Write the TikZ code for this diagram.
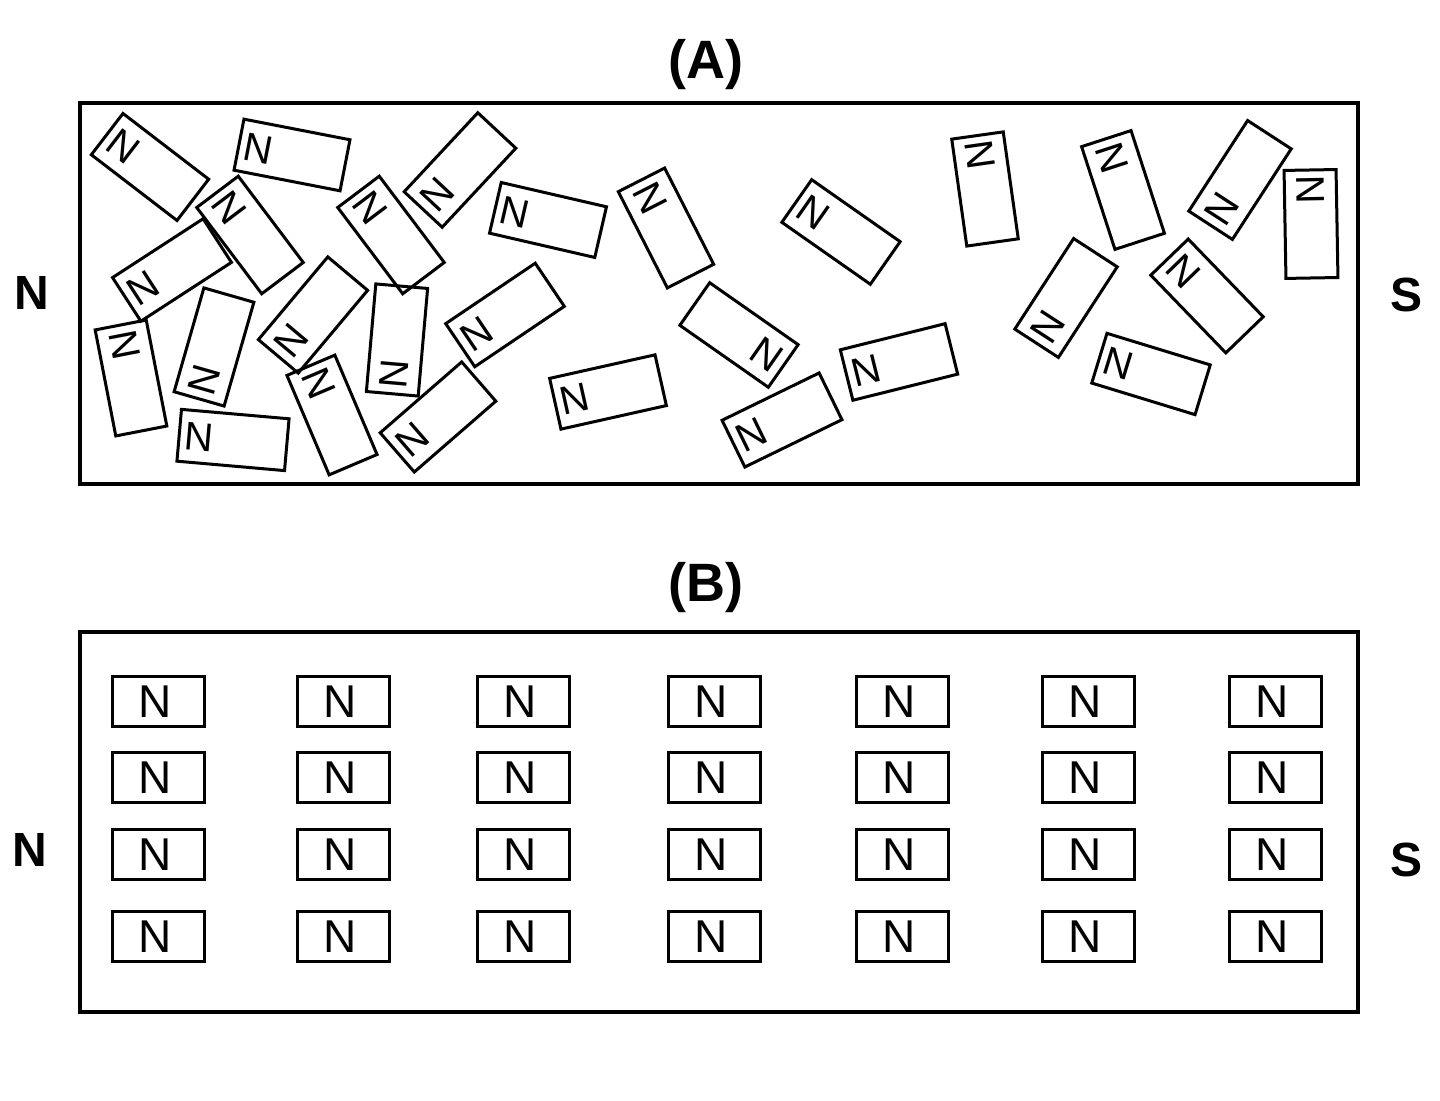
\documentclass[tikz,border=0pt]{standalone}
\usepackage{fontspec}
\setmainfont{Liberation Sans}
\begin{document}
\begin{tikzpicture}[x=0.5pt,y=0.5pt,
  frame/.style={draw,line width=2pt},
  magbox/.style={draw,line width=1.5pt},
  nlab/.style={font=\fontsize{20}{20}\selectfont,inner sep=0pt},
  nlabb/.style={font=\fontsize{23}{23}\selectfont,inner sep=0pt},
  biglab/.style={font=\fontsize{24}{24}\selectfont\bfseries,inner sep=0pt},
  title/.style={font=\fontsize{27}{27}\selectfont\bfseries,inner sep=0pt}]
\useasboundingbox (0,0) rectangle (1440,1101);
\newcommand\mymag[4]{%
 \begin{scope}[shift={(#1,{1101-#2})},rotate=#3,transform shape]
  \draw[magbox] (-54,-26) rectangle (54,26);
  \node[nlab] (#4) at (-34,0) {N};
 \end{scope}}
\newcommand\mygrid[3]{%
  \draw[magbox] ({#1-46},{1101-#2-25}) rectangle ({#1+46},{1101-#2+25});
  \node[nlabb] (#3) at ({#1-3},{1101-#2}) {N};}
% titles and poles
\node[title] (tA) at (706,{1101-65}) {(A)};
\node[title] (tB) at (706,{1101-588}) {(B)};
\node[biglab] (NA) at (32,{1101-293}) {N};
\node[biglab] (SA) at (1406,{1101-295}) {S};
\node[biglab] (NB) at (30,{1101-850}) {N};
\node[biglab] (SB) at (1406,{1101-860}) {S};
% frames
\draw[frame] (80,{1101-103}) rectangle (1358,{1101-484});
\draw[frame] (80,{1101-632}) rectangle (1358,{1101-1012});
% (A) random magnets
\mymag{150}{167}{-37.5}{a1}
\mymag{292}{155}{-11}{a2}
\mymag{460}{170}{47}{a3}
\mymag{172}{270}{33}{a4}
\mymag{250}{235}{-53}{a5}
\mymag{391}{235}{-53}{a6}
\mymag{131}{378}{-79}{a7}
\mymag{214}{347}{74}{a8}
\mymag{313}{315}{50}{a9}
\mymag{397}{340}{85}{a10}
\mymag{505}{315}{34}{a11}
\mymag{332}{415}{-67}{a12}
\mymag{233}{440}{-5}{a13}
\mymag{438}{417}{41}{a14}
\mymag{548}{220}{-13}{a2b}
\mymag{666}{228}{-63}{a15}
\mymag{841}{232}{-35}{a16}
\mymag{739}{335}{145}{a17}
\mymag{608}{392}{12.6}{a18}
\mymag{782}{420}{26}{a19}
\mymag{899}{362}{14}{a20}
\mymag{985}{189}{-82}{a21}
\mymag{1123}{190}{-72}{a22}
\mymag{1240}{180}{57}{a23}
\mymag{1311}{224}{-89}{a24}
\mymag{1066}{298}{57}{a25}
\mymag{1207}{296}{-46}{a26}
\mymag{1151}{374}{-17}{a27}
% (B) aligned magnets
\foreach \cx [count=\i] in {158,343,523,714,902,1088,1275}{
  \foreach \cy [count=\j] in {702,778,855,937}{
    \mygrid{\cx}{\cy}{b\i\j}
  }}
\end{tikzpicture}
\end{document}
